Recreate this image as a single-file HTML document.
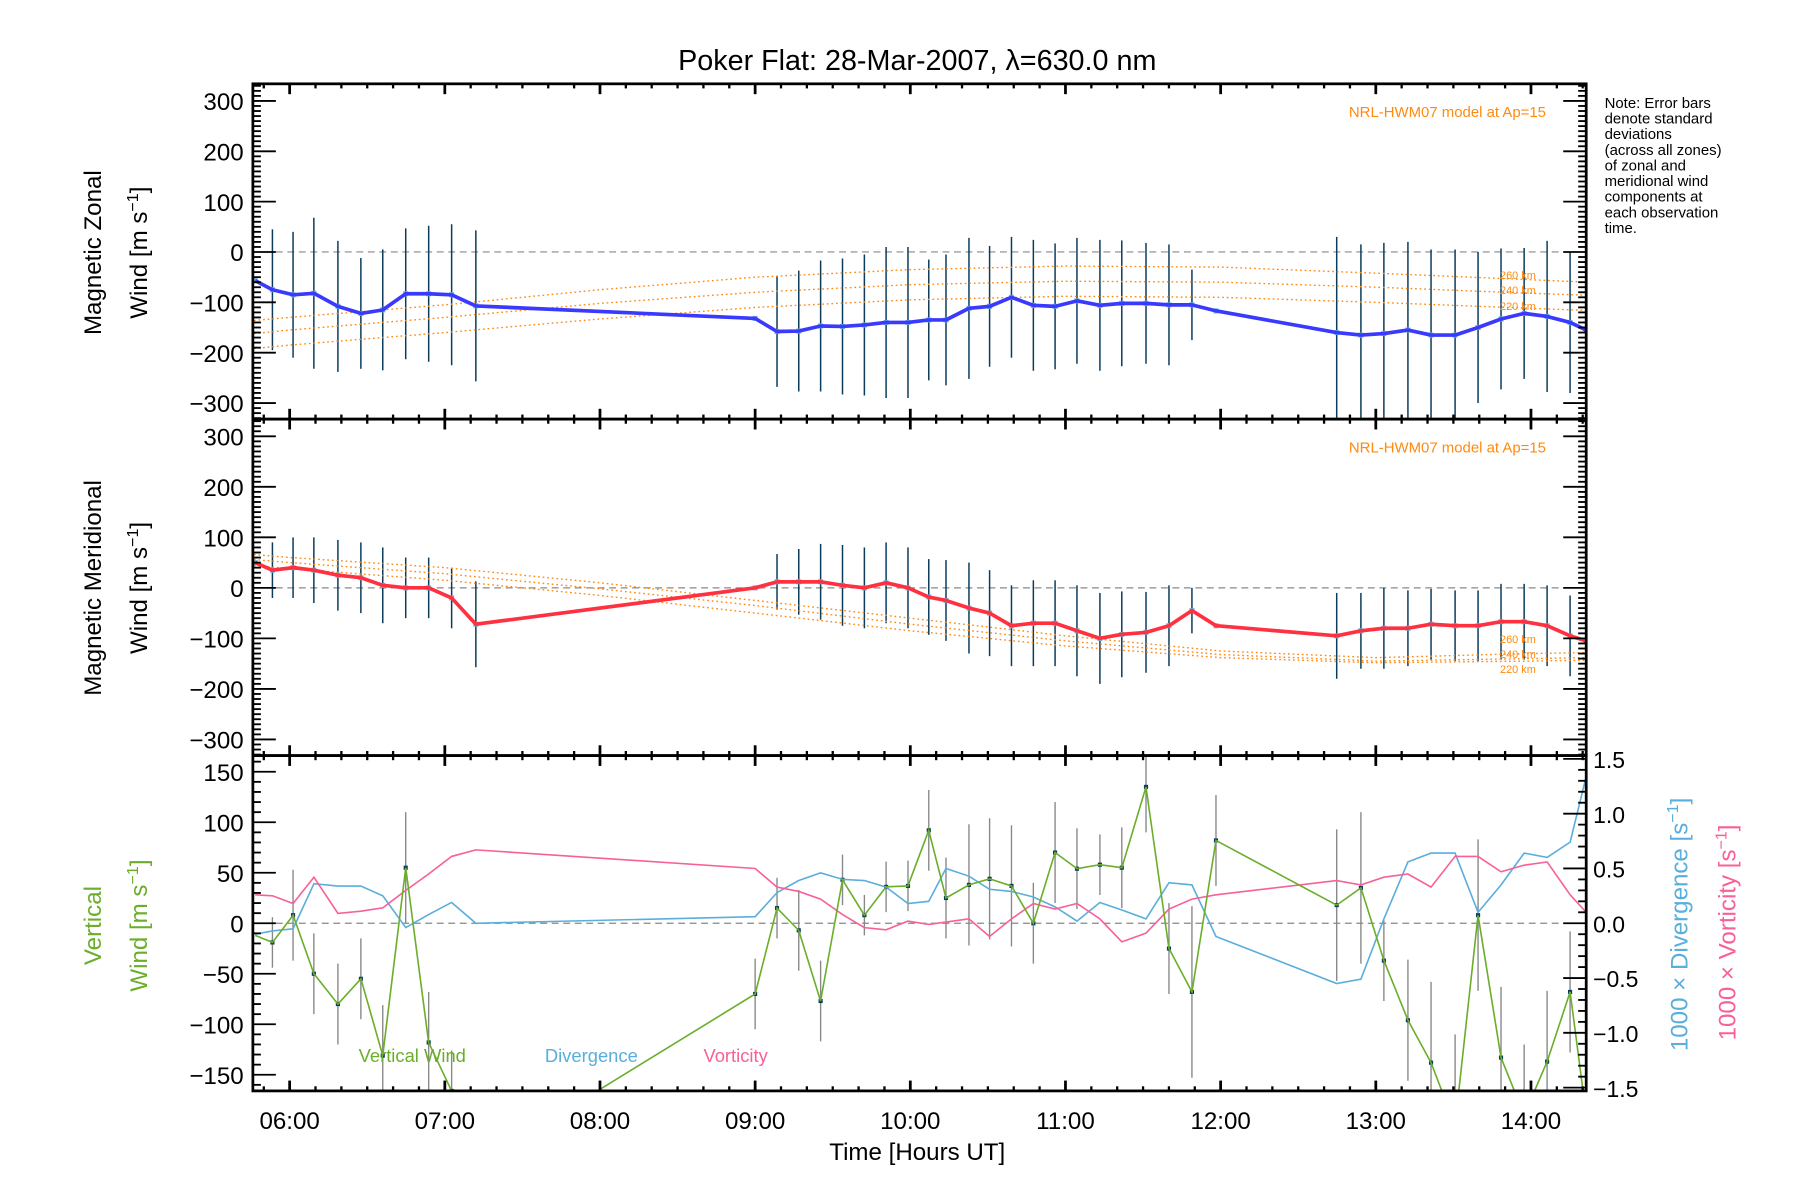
<!DOCTYPE html>
<html><head><meta charset="utf-8"><style>
html,body{margin:0;padding:0;background:#fff;}
svg{display:block;font-family:"Liberation Sans",sans-serif;}
</style></head><body>
<svg id="chart" width="1800" height="1200" viewBox="0 0 1566 1045" preserveAspectRatio="none" xmlns="http://www.w3.org/2000/svg"></svg>
<script>
const times=[5.778,5.889,6.022,6.156,6.311,6.459,6.600,6.748,6.896,7.044,7.200,9.000,9.141,9.281,9.422,9.563,9.704,9.844,9.985,10.119,10.230,10.378,10.511,10.652,10.793,10.933,11.074,11.222,11.363,11.519,11.667,11.815,11.970,12.748,12.904,13.052,13.207,13.356,13.511,13.659,13.807,13.956,14.104,14.252,14.356];
const zonal=[-57,-75,-85,-82,-108,-122,-115,-83,-83,-85,-107,-132,-158,-157,-147,-148,-145,-140,-140,-135,-135,-112,-108,-90,-106,-108,-97,-106,-102,-102,-105,-105,-117,-160,-165,-162,-155,-165,-165,-150,-133,-122,-128,-140,-155];
const zonalErr=[0,120,125,150,130,110,120,130,135,140,150,0,110,120,130,135,140,150,150,120,130,140,120,120,130,125,125,130,125,120,120,70,0,190,180,180,175,170,170,150,140,130,150,140,0];
const merid=[50,35,40,35,25,20,5,0,0,-20,-72,0,12,12,12,5,0,10,0,-18,-25,-40,-50,-75,-70,-70,-85,-100,-92,-88,-75,-45,-75,-95,-85,-80,-80,-72,-75,-75,-67,-67,-75,-95,-105];
const meridErr=[0,55,60,65,70,70,75,60,60,60,85,0,55,65,75,80,80,80,80,75,80,90,85,80,85,85,90,90,85,80,80,45,0,85,75,80,75,70,70,70,75,75,80,80,0];
const vert=[-12,-19,8,-50,-80,-55,-131,55,-118,-166,-240,-70,15,-7,-77,43,8,36,37,92,25,38,44,37,0,70,54,58,55,135,-25,-68,82,18,35,-37,-96,-138,-200,8,-133,-190,-137,-68,-190];
const vertErr=[0,25,45,40,40,40,50,55,50,40,40,35,30,40,40,25,20,25,25,40,40,60,60,60,40,50,40,30,40,45,45,85,45,75,75,40,60,80,90,75,70,70,70,60,40];
const diverg=[-0.10,-0.07,-0.05,0.36,0.34,0.34,0.25,-0.04,0.08,0.19,0.0,0.06,0.28,0.39,0.46,0.40,0.39,0.33,0.18,0.20,0.50,0.43,0.31,0.29,0.24,0.15,0.02,0.19,0.12,0.04,0.37,0.35,-0.12,-0.55,-0.51,0.04,0.56,0.64,0.64,0.10,0.35,0.64,0.60,0.74,1.34];
const vort=[0.26,0.25,0.18,0.42,0.09,0.11,0.14,0.30,0.45,0.61,0.67,0.50,0.33,0.29,0.22,0.08,-0.04,-0.06,0.02,-0.01,0.01,0.04,-0.12,0.04,0.18,0.13,0.18,0.04,-0.17,-0.09,0.13,0.22,0.26,0.39,0.35,0.42,0.45,0.33,0.61,0.61,0.47,0.53,0.56,0.26,0.10];
const modelHours=[5.77,6,7,8,9,10,11,12,13,14,14.36];
const zModel260=[-136,-130,-105,-75,-50,-35,-28,-30,-42,-55,-60];
const zModel240=[-162,-155,-130,-102,-80,-65,-58,-60,-70,-82,-86];
const zModel220=[-192,-185,-160,-133,-110,-95,-88,-90,-100,-112,-116];
const mModel260=[66,60,40,10,-25,-60,-95,-125,-138,-130,-128];
const mModel240=[56,50,28,-2,-35,-72,-105,-132,-145,-140,-138];
const mModel220=[44,38,15,-15,-50,-85,-115,-138,-148,-145,-143];
const xTickHours=[6,7,8,9,10,11,12,13,14];
const xTickLabels=["06:00","07:00","08:00","09:00","10:00","11:00","12:00","13:00","14:00"];
const windTicks=[300,200,100,0,-100,-200,-300];
const vertTicks=[150,100,50,0,-50,-100,-150];
const rightTicks=[1.5,1.0,0.5,0.0,-0.5,-1.0,-1.5];

const NS="http://www.w3.org/2000/svg";
const svg=document.getElementById('chart');
function mk(tag,attrs,parent){const e=document.createElementNS(NS,tag);for(const k in attrs)e.setAttribute(k,attrs[k]);(parent||svg).appendChild(e);return e;}
const L=220,R=1380;
const H0=5.763,H1=14.356;
const xs=h=>L+(h-H0)/(H1-H0)*(R-L);
const panels=[{top:73,bot:365,min:-332,max:334},{top:365,bot:658,min:-332,max:334},{top:658,bot:950,min:-166,max:166}];
const ys=(p,v)=>p.bot-(v-p.min)/(p.max-p.min)*(p.bot-p.top);
const p3=panels[2];
const yr=v=>p3.bot-(v+1.53)/3.06*(p3.bot-p3.top);
const fmt=v=>(v<0?'\u2212':'')+Math.abs(v);

let t=mk('text',{x:798,y:61,'text-anchor':'middle','font-size':25});
t.textContent='Poker Flat: 28-Mar-2007, \u03bb=630.0 nm';



const defs=mk('defs',{});
panels.forEach((p,i)=>{const c=mk('clipPath',{id:'clip'+i},defs);mk('rect',{x:L,y:p.top,width:R-L,height:p.bot-p.top},c);});

function polyline(p,xsArr,vals,attrs,name,clipId){
  const pts=vals.map((v,i)=>xs(xsArr[i]).toFixed(1)+','+(typeof p==='function'?p(v):ys(p,v)).toFixed(1)).join(' ');
  const e=mk('polyline',Object.assign({points:pts,fill:'none'},attrs));
  if(clipId!==undefined)e.setAttribute('clip-path','url(#clip'+clipId+')');
  
  
  return e;
}

[[0,zonal,zonalErr,'#3a3aff',[zModel260,zModel240,zModel220],'zonal'],[1,merid,meridErr,'#ff3040',[mModel260,mModel240,mModel220],'meridional']].forEach(([pi,vals,errs,col,models,nm])=>{
  const p=panels[pi];
  const g=mk('g',{'clip-path':'url(#clip'+pi+')'});
  
  
  const zl=mk('line',{x1:L,x2:R,y1:ys(p,0),y2:ys(p,0),stroke:'#888','stroke-dasharray':'6,4','stroke-width':1},g);
  
  
  times.forEach((h,i)=>{if(!errs[i])return;
    const e=mk('line',{x1:xs(h),x2:xs(h),y1:ys(p,vals[i]+errs[i]),y2:ys(p,vals[i]-errs[i]),stroke:'#0b3c5d','stroke-width':1.3},g);
    
    
  });
  models.forEach((m,k)=>{
    polyline(p,modelHours,m,{stroke:'#ff8a10','stroke-width':1.2,'stroke-dasharray':'1.5,2.5'},nm+'-model-'+[260,240,220][k]+'km',pi);
  });
  polyline(p,times,vals,{stroke:col,'stroke-width':3.2,'stroke-linejoin':'round'},nm+'-wind-line',pi);
  times.forEach((h,i)=>{const e=mk('rect',{x:xs(h)-2.2,y:ys(p,vals[i])-2.2,width:4.4,height:4.4,fill:'#6cb4dc'},g);
    
    });
  let lbl=mk('text',{x:1345,y:p.top+29,'text-anchor':'end','font-size':13,fill:'#ff8a10'});
  lbl.textContent='NRL-HWM07 model at Ap=15';
  
  
  const kmY=pi===0?[240,253,267]:[557,570,583];
  ['260 km','240 km','220 km'].forEach((s,k)=>{const e=mk('text',{x:1305,y:kmY[k]+3,'font-size':9.5,fill:'#ff8a10'});e.textContent=s;
    
    });
});

{
  const p=p3;
  const g=mk('g',{'clip-path':'url(#clip2)'});
  
  
  const zl=mk('line',{x1:L,x2:R,y1:ys(p,0),y2:ys(p,0),stroke:'#888','stroke-dasharray':'6,4','stroke-width':1},g);
  
  
  times.forEach((h,i)=>{if(!vertErr[i]||i===0)return;
    const e=mk('line',{x1:xs(h),x2:xs(h),y1:ys(p,vert[i]+vertErr[i]),y2:ys(p,vert[i]-vertErr[i]),stroke:'#888','stroke-width':1.2},g);
    
    });
  polyline(yr,times,diverg,{stroke:'#5aaedc','stroke-width':1.4},'divergence-line',2);
  polyline(yr,times,vort,{stroke:'#f8609a','stroke-width':1.4},'vorticity-line',2);
  polyline(p,times,vert,{stroke:'#6aae2a','stroke-width':1.4},'vertical-wind-line',2);
  times.forEach((h,i)=>{if(i===0)return;const e=mk('rect',{x:xs(h)-1.8,y:ys(p,vert[i])-1.8,width:3.6,height:3.6,fill:'#0b3c5d'},g);
    
    });
  [['Vertical Wind',312,'#6aae2a','legend-vertical-wind'],['Divergence',474,'#5aaedc','legend-divergence'],['Vorticity',612,'#f8609a','legend-vorticity']].forEach(([s,x,c,n])=>{
    const e=mk('text',{x:x,y:925,'font-size':16,fill:c});e.textContent=s;
    
    });
}

const ax=mk('g',{stroke:'#000',fill:'none'});


panels.forEach((p,pi)=>{
  mk('rect',{x:L,y:p.top,width:R-L,height:p.bot-p.top,'stroke-width':2.4},ax);
  for(let m=Math.ceil(H0*6);m<=H1*6;m++){const h=m/6;const major=m%6===0;const len=major?9:4;const x=xs(h);
    mk('line',{x1:x,x2:x,y1:p.bot,y2:p.bot-len,'stroke-width':major?2.4:2},ax);
    mk('line',{x1:x,x2:x,y1:p.top,y2:p.top+len,'stroke-width':major?2.4:2},ax);}
  const step=10, maj=pi<2?100:50;
  for(let v=Math.ceil(p.min/step)*step;v<=p.max;v+=step){const y=ys(p,v);const major=v%maj===0;const len=major?20:7;
    mk('line',{x1:L,x2:L+len,y1:y,y2:y,'stroke-width':1.6},ax);
    if(pi<2)mk('line',{x1:R,x2:R-len,y1:y,y2:y,'stroke-width':1.6},ax);}
});
for(let k=-15;k<=15;k++){const v=k/10;const y=yr(v);const major=k%5===0;const len=major?20:7;
  mk('line',{x1:R,x2:R-len,y1:y,y2:y,'stroke-width':1.6},ax);}

panels.forEach((p,pi)=>{
  (pi<2?windTicks:vertTicks).forEach(v=>{const e=mk('text',{x:212,y:ys(p,v)+8,'text-anchor':'end','font-size':21});e.textContent=fmt(v);
    
    });
});
rightTicks.forEach(v=>{const e=mk('text',{x:1386,y:yr(v)+8,'font-size':20});e.textContent=(v<0?'\u2212':'')+Math.abs(v).toFixed(1);
  
  });
xTickHours.forEach((h,i)=>{const e=mk('text',{x:xs(h),y:983,'text-anchor':'middle','font-size':21});e.textContent=xTickLabels[i];
  
  });
let xt=mk('text',{x:798,y:1010,'text-anchor':'middle','font-size':21});xt.textContent='Time [Hours UT]';



function vtitle(x,y,lines,col,name){const e=mk('text',{x:0,y:0,'text-anchor':'middle','font-size':21,fill:col,transform:`translate(${x},${y}) rotate(-90)`});
  e.innerHTML=lines;  }
vtitle(88,220,'Magnetic Zonal','#000','zonal-title-line1');
vtitle(128,220,'Wind [m s<tspan dy="-8" font-size="14">\u22121</tspan><tspan dy="8">]</tspan>','#000','zonal-title-line2');
vtitle(88,512,'Magnetic Meridional','#000','meridional-title-line1');
vtitle(128,512,'Wind [m s<tspan dy="-8" font-size="14">\u22121</tspan><tspan dy="8">]</tspan>','#000','meridional-title-line2');
vtitle(88,806,'Vertical','#6aae2a','vertical-title-line1');
vtitle(128,806,'Wind [m s<tspan dy="-8" font-size="14">\u22121</tspan><tspan dy="8">]</tspan>','#6aae2a','vertical-title-line2');
function rtitle(x,y,html,col,name){const e=mk('text',{x:0,y:0,'text-anchor':'middle','font-size':21,fill:col,transform:`translate(${x},${y}) rotate(-90)`});
  e.innerHTML=html;  }
rtitle(1468,805,'1000 \u00d7 Divergence [s<tspan dy="-8" font-size="14">\u22121</tspan><tspan dy="8">]</tspan>','#5aaedc','divergence-axis-title');
rtitle(1510,812,'1000 \u00d7 Vorticity [s<tspan dy="-8" font-size="14">\u22121</tspan><tspan dy="8">]</tspan>','#f8609a','vorticity-axis-title');

const note=['Note: Error bars','denote standard','deviations','(across all zones)','of zonal and','meridional wind','components at','each observation','time.'];
note.forEach((s,i)=>{const e=mk('text',{x:1396,y:94+i*13.6,'font-size':13});e.textContent=s;
  
  });
</script>
</body></html>
